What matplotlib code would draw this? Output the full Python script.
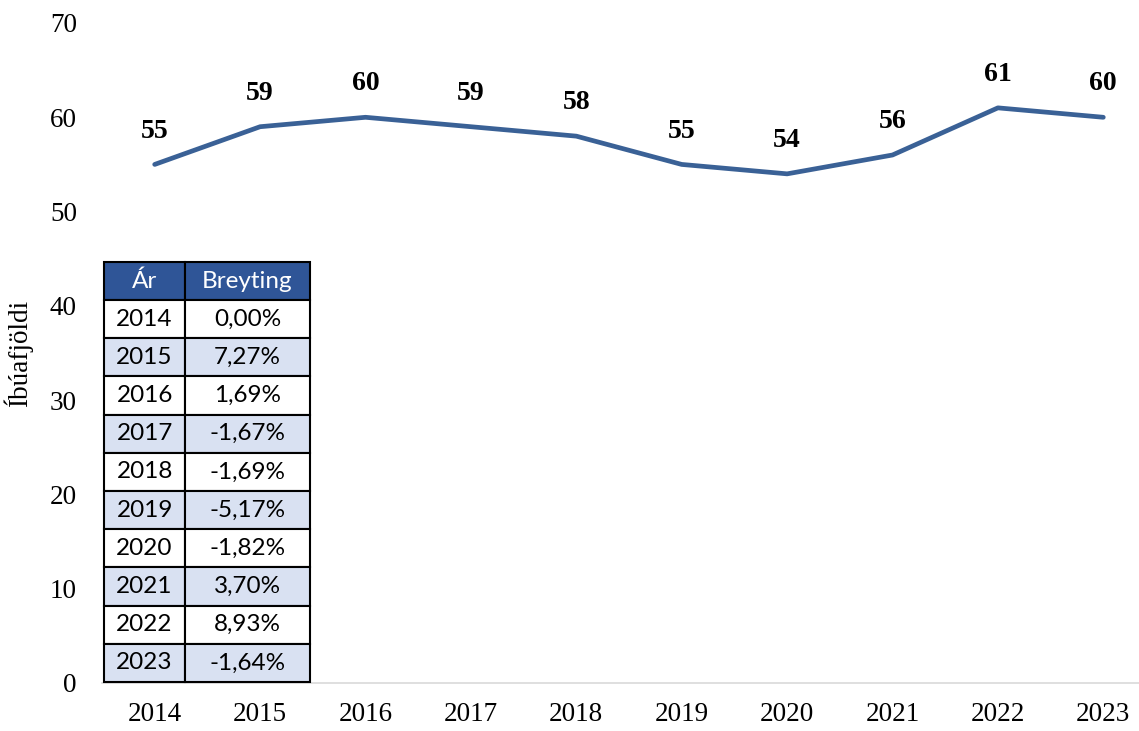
import matplotlib.pyplot as plt

# gögn
years = ['2014', '2015', '2016', '2017', '2018', '2019', '2020', '2021', '2022', '2023']
population = [55, 59, 60, 59, 58, 55, 54, 56, 61, 60]
change = ['0,00%', '7,27%', '1,69%', '-1,67%', '-1,69%', '-5,17%', '-1,82%', '3,70%', '8,93%', '-1,64%']

line_color = '#3A6196'
serif = ['Liberation Serif', 'DejaVu Serif']

fig = plt.figure(figsize=(11.39, 7.31), dpi=100)
ax = fig.add_axes([102 / 1139, 1 - 683 / 731, 1054 / 1139, 660 / 731])

x = list(range(len(years)))
ax.plot(x, population, color=line_color, lw=3.4, solid_capstyle='round',
        solid_joinstyle='round', zorder=3)

for xi, v in zip(x, population):
    ax.annotate(str(v), (xi, v), xytext=(0, 15), textcoords='offset points',
                ha='center', va='bottom', fontsize=20, fontweight='bold',
                family=serif, color='black')

ax.set_xlim(-0.5, 9.5)
ax.set_ylim(0, 70)
ax.set_xticks(x)
ax.set_xticklabels(years)
ax.set_yticks(range(0, 71, 10))

for lab in ax.get_xticklabels() + ax.get_yticklabels():
    lab.set_family(serif)
    lab.set_fontsize(19.5)
ax.tick_params(axis='both', length=0)
ax.tick_params(axis='x', pad=14)
ax.tick_params(axis='y', pad=18)

for s in ['top', 'right', 'left']:
    ax.spines[s].set_visible(False)
ax.spines['bottom'].set_color('#D9D9D9')
ax.spines['bottom'].set_linewidth(1.2)

ax.set_ylabel('Íbúafjöldi', family=serif, fontsize=19.5, labelpad=12)

# tafla
rows = [[y, c] for y, c in zip(years, change)]
tbl = ax.table(cellText=rows, colLabels=['Ár', 'Breyting'],
               cellLoc='center', colWidths=[0.393, 0.607],
               bbox=[0.002, 0.0015, 0.1954, 0.6365])
tbl.auto_set_font_size(False)
for (r, c), cell in tbl.get_celld().items():
    cell.set_edgecolor('black')
    cell.set_linewidth(1.5)
    cell.get_text().set_family(['Lato', 'DejaVu Sans'])
    cell.get_text().set_fontsize(17.5)
    if r == 0:
        cell.set_facecolor('#2F5597')
        cell.get_text().set_color('white')
    elif r % 2 == 0:
        cell.set_facecolor('#D9E1F2')
    else:
        cell.set_facecolor('white')
tbl.set_zorder(5)

fig.savefig('out.png', dpi=100)
